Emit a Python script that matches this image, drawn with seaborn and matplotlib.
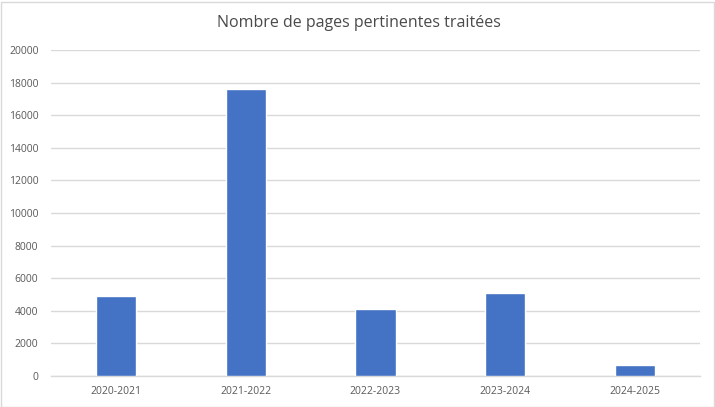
import matplotlib
matplotlib.use("Agg")
import matplotlib.pyplot as plt
import seaborn as sns
import pandas as pd
from matplotlib.patches import Rectangle

categories = ["2020-2021", "2021-2022", "2022-2023", "2023-2024", "2024-2025"]
values = [4900, 17600, 4080, 5100, 670]
yticks = [0, 2000, 4000, 6000, 8000, 10000, 12000, 14000, 16000, 18000, 20000]
title = "Nombre de pages pertinentes traitées"

sns.set_theme(style="white")
plt.rcParams['font.family'] = ['Open Sans', 'DejaVu Sans']

df = pd.DataFrame({"cat": categories, "val": values})

fig = plt.figure(figsize=(7.15, 4.07), dpi=100)
ax = fig.add_axes([51/715, 31/407, 649/715, 326/407])
sns.barplot(data=df, x="cat", y="val", color="#4472C4", width=0.31,
            saturation=1, ax=ax, zorder=3)
ax.set_ylim(0, 20000)
ax.set_xlim(-0.5, 4.5)
ax.set_yticks(yticks)
ax.set_yticklabels([str(t) for t in yticks])
ax.yaxis.grid(True, color="#D9D9D9", linewidth=1, zorder=0)
ax.set_axisbelow(True)
for s in ["top", "right", "left"]:
    ax.spines[s].set_visible(False)
ax.spines["bottom"].set_color("#D9D9D9")
ax.spines["bottom"].set_linewidth(1)
ax.set_xlabel("")
ax.set_ylabel("")
ax.tick_params(axis="both", length=0, labelsize=7.5, labelcolor="#595959")
ax.tick_params(axis="y", pad=9)
ax.tick_params(axis="x", pad=7)
fig.text(0.5 + 1/715, 1 - 23/407, title, ha="center", va="center", fontsize=11.5, color="#4a4a4a")
fig.patches.append(Rectangle((0.5/715, 0.5/407), 713/715, 405/407, transform=fig.transFigure,
                             fill=False, edgecolor="#D9D9D9", linewidth=1))
fig.savefig("out.png", dpi=100)
